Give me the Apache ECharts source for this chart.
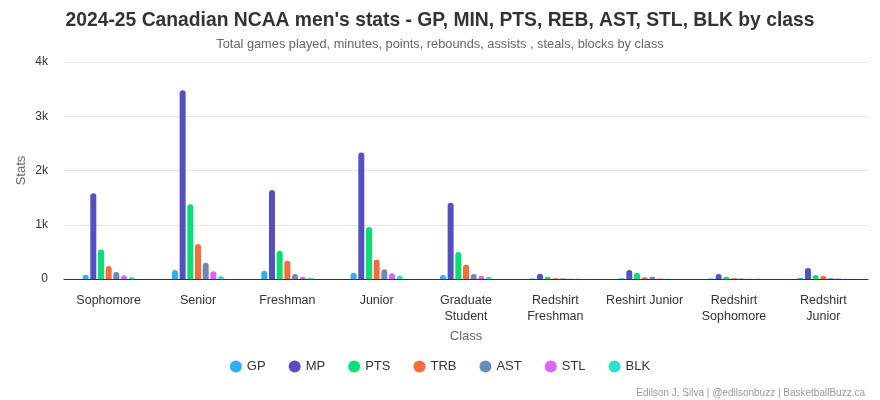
<!DOCTYPE html>
<html><head><meta charset="utf-8">
<script src="https://cdn.jsdelivr.net/npm/echarts@6/dist/echarts.min.js"></script>
<style>html,body{margin:0;padding:0;background:#fff}#c{width:880px;height:400px}</style>
</head><body><div id="c"></div>
<script>
const categories = ['Sophomore','Senior','Freshman','Junior','Graduate\nStudent','Redshirt\nFreshman','Reshirt Junior','Redshirt\nSophomore','Redshirt\nJunior'];
const GP  = [80, 165, 150, 115, 75, 10, 15, 10, 20];
const MP  = [1580, 3480, 1640, 2330, 1405, 95, 165, 90, 205];
const PTS = [545, 1380, 520, 960, 500, 40, 115, 40, 75];
const TRB = [240, 645, 335, 360, 265, 15, 30, 15, 60];
const AST = [130, 300, 90, 180, 90, 10, 40, 10, 15];
const STL = [70, 145, 40, 105, 60, 5, 10, 5, 10];
const BLK = [30, 55, 20, 65, 35, 3, 5, 3, 5];
const yTicks = [0, 1000, 2000, 3000, 4000];
const seriesNames = ['GP','MP','PTS','TRB','AST','STL','BLK'];
const seriesData = [GP, MP, PTS, TRB, AST, STL, BLK];
const colors = ['#2caffe','#544fc5','#00e272','#fe6a35','#6b8abc','#d568fb','#2ee0ca'];
const FONT = '"Liberation Sans", Arial, Helvetica, sans-serif';

const chart = echarts.init(document.getElementById('c'), null, {renderer:'canvas'});
chart.setOption({
  animation: false,
  color: colors,
  textStyle: {fontFamily: FONT},
  title: [
    {text: "2024-25 Canadian NCAA men's stats - GP, MIN, PTS, REB, AST, STL, BLK by class", left: 'center', top: 6,
     textStyle: {fontFamily: FONT, fontSize: 19.3, fontWeight: 'bold', color: '#333'}},
    {text: 'Total games played, minutes, points, rebounds, assists , steals, blocks by class', left: 'center', top: 33,
     textStyle: {fontFamily: FONT, fontSize: 12.8, fontWeight: 'normal', color: '#666'}},
    {text: 'Edilson J. Silva | @edilsonbuzz | BasketballBuzz.ca', right: 10, top: 383,
     textStyle: {fontFamily: FONT, fontSize: 10, fontWeight: 'normal', color: '#999'}}
  ],
  legend: {
    bottom: 22, left: 'center', icon: 'circle', itemWidth: 12, itemHeight: 12, itemGap: 23,
    textStyle: {fontFamily: FONT, fontSize: 13, color: '#333'},
    data: seriesNames
  },
  grid: {left: 64, right: 12, top: 62, bottom: 121},
  xAxis: {
    type: 'category', data: categories,
    name: 'Class', nameLocation: 'middle', nameGap: 50,
    nameTextStyle: {fontFamily: FONT, fontSize: 13, color: '#666'},
    axisLine: {lineStyle: {color: '#333', width: 1}},
    axisTick: {show: false},
    axisLabel: {fontFamily: FONT, fontSize: 12.5, color: '#333', interval: 0, margin: 14, lineHeight: 16}
  },
  yAxis: {
    type: 'value', min: 0, max: 4000, interval: 1000,
    name: 'Stats', nameLocation: 'middle', nameGap: 36, nameMoveOverlap: false,
    nameTextStyle: {fontFamily: FONT, fontSize: 13, color: '#666'},
    axisLine: {show: false}, axisTick: {show: false},
    splitLine: {lineStyle: {color: '#e6e6e6'}},
    axisLabel: {fontFamily: FONT, fontSize: 12, color: '#333', margin: 16,
      formatter: v => yTicks.includes(v) ? (v === 0 ? '0' : (v/1000) + 'k') : ''}
  },
  series: seriesNames.map((n, i) => ({
    name: n, type: 'bar', data: seriesData[i],
    barWidth: 6, barGap: '28%',
    itemStyle: {borderRadius: [3, 3, 0, 0]}
  }))
});
</script></body></html>
